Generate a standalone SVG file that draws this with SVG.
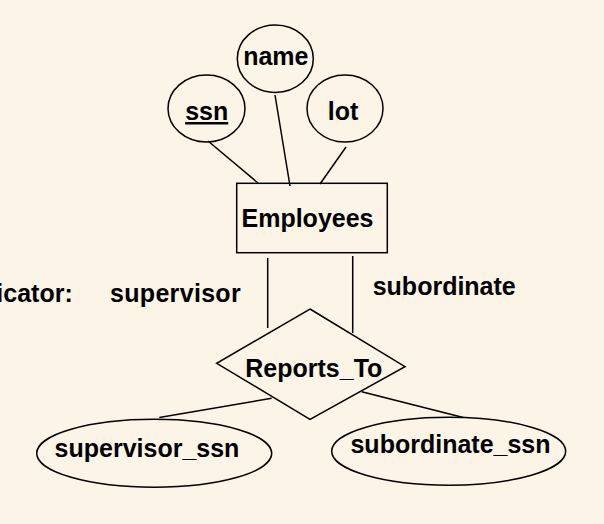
<svg xmlns="http://www.w3.org/2000/svg" width="604" height="524" viewBox="0 0 604 524">
<style>
.shape{fill:none;stroke:#000;stroke-width:1.5}
.conn{fill:none;stroke:#000;stroke-width:1.5}
text{font-family:"Liberation Sans",Arial,sans-serif;font-weight:bold;font-size:25px;fill:#000}
.c{text-anchor:middle}
</style>
<rect x="0" y="0" width="604" height="524" fill="#FBF4E7"/>
<g id="connectors">
<line class="conn" x1="208" y1="141" x2="258" y2="183"/>
<line class="conn" x1="275" y1="95" x2="290" y2="186"/>
<line class="conn" x1="346" y1="147" x2="320" y2="184"/>
<line class="conn" x1="267.7" y1="258" x2="267.7" y2="328"/>
<line class="conn" x1="352.7" y1="256" x2="352.7" y2="333"/>
<line class="conn" x1="271.7" y1="398.3" x2="159.3" y2="417.5"/>
<line class="conn" x1="361.7" y1="391.7" x2="463.3" y2="417.5"/>
</g>
<g id="name">
<ellipse class="shape" cx="275.3" cy="58.7" rx="38" ry="33.7"/>
<text class="c" x="275.8" y="65">name</text>
</g>
<g id="ssn">
<ellipse class="shape" cx="206.5" cy="108.5" rx="38.5" ry="33.5"/>
<text class="c" x="206.7" y="120" text-decoration="underline">ssn</text>
</g>
<g id="lot">
<ellipse class="shape" cx="345" cy="108.5" rx="38" ry="33.5"/>
<text class="c" x="343" y="120">lot</text>
</g>
<g id="employees">
<rect class="shape" x="236.7" y="183.3" width="150.6" height="69.4"/>
<text class="c" x="307.5" y="227.3">Employees</text>
</g>
<g id="reports_to">
<polygon class="shape" points="310,309 405,366.7 310,419.3 216.7,363.3"/>
<text class="c" x="313.8" y="376.7">Reports_To</text>
</g>
<g id="supervisor_ssn">
<ellipse class="shape" cx="154.2" cy="453.3" rx="117.5" ry="34"/>
<text class="c" x="147" y="456.7">supervisor_ssn</text>
</g>
<g id="subordinate_ssn">
<ellipse class="shape" cx="448.7" cy="451.2" rx="117" ry="34"/>
<text class="c" x="450.5" y="453.3">subordinate_ssn</text>
</g>
<g id="labels">
<text x="72.7" y="301.7" text-anchor="end">icator:</text>
<text x="110" y="301.7" textLength="130.7">supervisor</text>
<text x="372.7" y="295">subordinate</text>
</g>
</svg>
